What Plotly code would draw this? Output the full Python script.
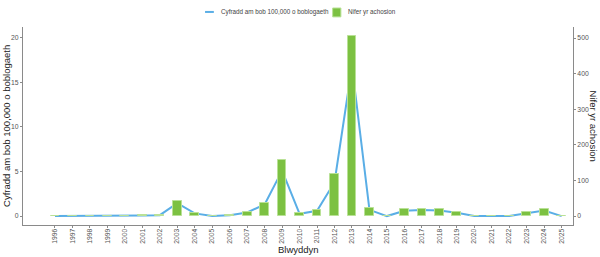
import plotly.graph_objects as go

years = list(range(1996, 2026))
cases = [0, 0, 1, 0, 1, 2, 3, 43, 9, 0, 3, 12, 37, 158, 8, 18, 117, 507, 22, 0,
         19, 21, 20, 12, 0, 0, 0, 10, 20, 0]
rates = [0, 0, 0.03, 0, 0.03, 0.07, 0.1, 1.45, 0.3, 0, 0.1, 0.4, 1.3, 5.1, 0.26, 0.6,
         3.8, 16.8, 0.7, 0, 0.6, 0.67, 0.63, 0.38, 0, 0, 0, 0.31, 0.63, 0]
tick_labels = [str(y) for y in years]

line_name = "Cyfradd am bob 100,000 o boblogaeth"
bar_name = "Nifer yr achosion"
x_title = "Blwyddyn"

BAR_COLOR = "#7cc142"
BAR_EDGE = "#b9e196"
LINE_COLOR = "#5aaee6"
FONT = "Arial, Liberation Sans, sans-serif"

fig = go.Figure()
fig.add_trace(go.Bar(x=years, y=cases, name=bar_name, yaxis="y2", width=0.5,
                     marker=dict(color=BAR_COLOR, line=dict(color=BAR_EDGE, width=1)),
                     showlegend=False))
fig.add_trace(go.Scatter(x=years, y=rates, name=line_name, mode="lines",
                         line=dict(color=LINE_COLOR, width=2), showlegend=False))

axis_common = dict(showgrid=False, zeroline=False, showline=True, linecolor="#8a8a8a",
                   linewidth=1, ticks="outside", ticklen=2, tickcolor="#8a8a8a",
                   tickfont=dict(size=6.8, color="#555555", family=FONT), automargin=False)

fig.update_layout(
    width=600, height=257,
    margin=dict(l=23, r=27, t=27, b=32),
    paper_bgcolor="white", plot_bgcolor="white",
    font=dict(family=FONT),
    bargap=0,
    xaxis=dict(range=[1994.17, 2025.65], tickmode="array", tickvals=years,
               ticktext=tick_labels, tickangle=-90, ticklabelstandoff=-2, **axis_common),
    yaxis=dict(range=[-1.0, 21.2], tickvals=[0, 5, 10, 15, 20], **axis_common),
    yaxis2=dict(range=[-25.3, 531], tickvals=[0, 100, 200, 300, 400, 500],
                overlaying="y", side="right", **axis_common),
)

# axis titles
fig.add_annotation(text=line_name, xref="paper", yref="paper", x=-0.031, y=0.5,
                   textangle=-90, showarrow=False, xanchor="center", yanchor="middle",
                   font=dict(size=9.5, color="#222222", family=FONT))
fig.add_annotation(text=bar_name, xref="paper", yref="paper", x=1.039, y=0.5,
                   textangle=90, showarrow=False, xanchor="center", yanchor="middle",
                   font=dict(size=9.5, color="#222222", family=FONT))
fig.add_annotation(text=x_title, xref="paper", yref="paper", x=0.5, y=-0.124,
                   showarrow=False, xanchor="center", yanchor="middle",
                   font=dict(size=9.5, color="#222222", family=FONT))

# custom legend
fig.add_shape(type="line", xref="paper", yref="paper", x0=0.331, x1=0.347, y0=1.076, y1=1.076,
              line=dict(color=LINE_COLOR, width=2))
fig.add_annotation(text=line_name, xref="paper", yref="paper", x=0.357, y=1.076,
                   showarrow=False, xanchor="left", yanchor="middle",
                   font=dict(size=6.3, color="#444444", family=FONT))
fig.add_shape(type="rect", xref="paper", yref="paper", x0=0.563, x1=0.578, y0=1.051, y1=1.096,
              fillcolor=BAR_COLOR, line=dict(color=BAR_EDGE, width=1))
fig.add_annotation(text=bar_name, xref="paper", yref="paper", x=0.588, y=1.076,
                   showarrow=False, xanchor="left", yanchor="middle",
                   font=dict(size=6.3, color="#444444", family=FONT))

fig.write_html("out.html")
